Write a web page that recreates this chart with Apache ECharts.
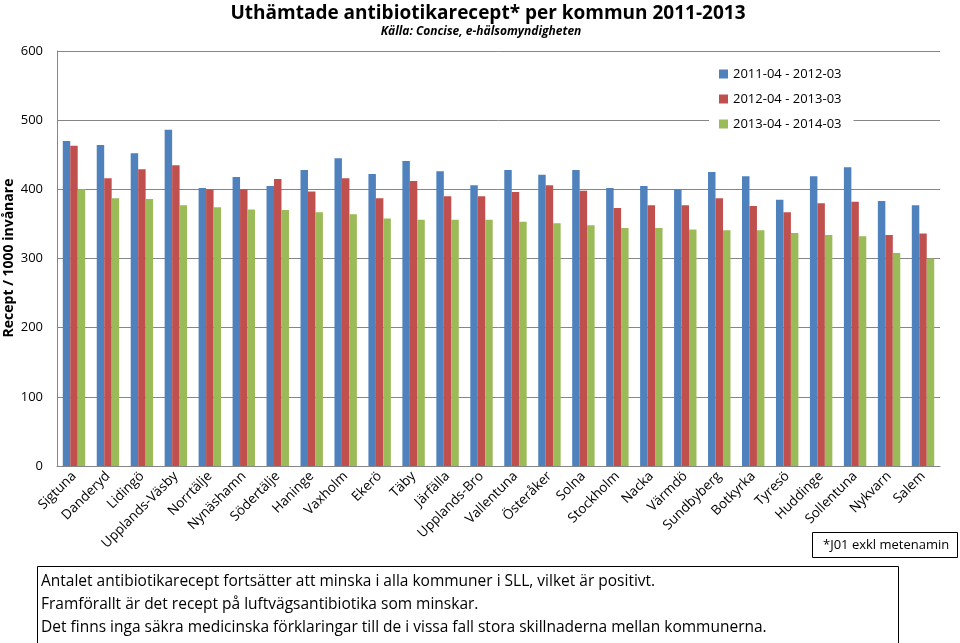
<!DOCTYPE html>
<html><head><meta charset="utf-8">
<script src="https://cdn.jsdelivr.net/npm/echarts@6/dist/echarts.min.js"></script>
<style>html,body{margin:0;padding:0;background:#fff}#c{width:960px;height:643px}</style>
</head><body><div id="c"></div>
<script>
const categories = ["Sigtuna","Danderyd","Lidingö","Upplands-Väsby","Norrtälje","Nynäshamn","Södertälje","Haninge","Vaxholm","Ekerö","Täby","Järfälla","Upplands-Bro","Vallentuna","Österåker","Solna","Stockholm","Nacka","Värmdö","Sundbyberg","Botkyrka","Tyresö","Huddinge","Sollentuna","Nykvarn","Salem"];
const seriesNames = ["2011-04 - 2012-03","2012-04 - 2013-03","2013-04 - 2014-03"];
const period1 = [470,464,452,486,402,418,405,428,445,422,441,426,406,428,421,428,402,405,400,425,419,385,419,432,383,377];
const period2 = [463,416,429,435,400,400,415,397,416,387,412,390,390,396,406,398,373,377,377,387,376,367,380,382,334,336];
const period3 = [400,387,386,377,374,371,370,367,364,358,356,356,356,353,351,348,344,344,342,341,341,337,334,332,308,300];
const yTicks = [0,100,200,300,400,500,600];
const titleText = "Uthämtade antibiotikarecept* per kommun 2011-2013";
const subtitleText = "Källa: Concise, e-hälsomyndigheten";
const yName = "Recept / 1000 invånare";
const noteText = "*J01 exkl metenamin";
const commentLines = ["Antalet antibiotikarecept fortsätter att minska i alla kommuner i SLL, vilket är positivt.","Framförallt är det recept på luftvägsantibiotika som minskar.","Det finns inga säkra medicinska förklaringar till de i vissa fall stora skillnaderna mellan kommunerna."];

const colors = ['#4F81BD','#C0504D','#9BBB59'];
const font = "'Open Sans','Noto Sans',sans-serif";
const chart = echarts.init(document.getElementById('c'));
const data = [period1, period2, period3];
chart.setOption({
  animation:false,
  color: colors,
  title: [{
    text: titleText, left: 483, top: -1, textAlign:'center',
    textStyle:{fontSize:19,fontWeight:'bold',color:'#000',fontFamily:font}
  },{
    text: subtitleText, left: 476, top: 21, textAlign:'center',
    textStyle:{fontSize:12,fontWeight:'bold',fontStyle:'italic',color:'#000',fontFamily:font}
  }],
  legend: {
    orient:'vertical', left: 709, top: 62, itemGap: 9,
    itemWidth: 9, itemHeight: 9, icon:'rect',
    backgroundColor:'#fff', padding:[4,12,4,10],
    textStyle:{fontSize:13,color:'#000',fontFamily:font, height:16, lineHeight:16},
    data: seriesNames
  },
  grid: {left:57, right:20, top:51, bottom:177, containLabel:false, outerBoundsMode:'none'},
  xAxis: {
    type:'category', data:categories,
    axisLine:{lineStyle:{color:'#868686'}},
    axisTick:{show:false},
    axisLabel:{rotate:45, fontSize:13.5, color:'#000', interval:0, margin:8, fontFamily:font}
  },
  yAxis: {
    type:'value', min:0, max:600, interval:100,
    axisLine:{show:true,lineStyle:{color:'#868686'}},
    axisTick:{show:false},
    axisLabel:{fontSize:13,color:'#000',margin:14,fontFamily:font},
    splitLine:{lineStyle:{color:'#868686'}}
  },
  series: seriesNames.map((n,i)=>({
    name:n, type:'bar', data:data[i], barGap:'0%', barCategoryGap:'34%',
    itemStyle:{color:colors[i]}
  })),
  graphic: [
    {type:'text', x:9, y:258, rotation:Math.PI/2, style:{text:yName, fontSize:14, fontWeight:'bold', fill:'#000', align:'center', verticalAlign:'middle', fontFamily:font}},
    {type:'rect', shape:{x:812.5,y:532.5,width:145,height:25}, style:{fill:'#fff',stroke:'#000',lineWidth:1}},
    {type:'text', x:823, y:545, style:{text:noteText, fontSize:13, fill:'#000', textVerticalAlign:'middle', fontFamily:font}},
    {type:'rect', shape:{x:37.5,y:566.5,width:861,height:80}, style:{fill:'#fff',stroke:'#000',lineWidth:1}},
    {type:'text', x:41, y:582, style:{text:commentLines[0], fontSize:15.5, fill:'#000', textVerticalAlign:'middle', fontFamily:font}},
    {type:'text', x:41, y:605, style:{text:commentLines[1], fontSize:15.5, fill:'#000', textVerticalAlign:'middle', fontFamily:font}},
    {type:'text', x:41, y:628, style:{text:commentLines[2], fontSize:15.5, fill:'#000', textVerticalAlign:'middle', fontFamily:font}}
  ]
});
</script></body></html>
